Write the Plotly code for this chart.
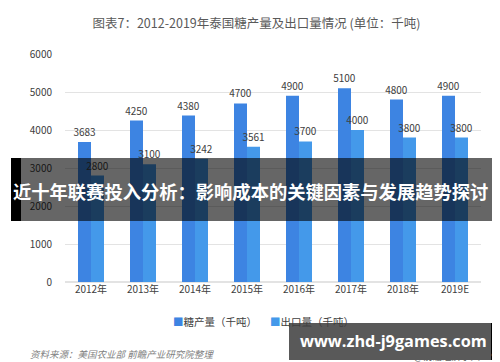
import plotly.graph_objects as go

years = ["2012年", "2013年", "2014年", "2015年", "2016年", "2017年", "2018年", "2019E"]
production = [3683, 4250, 4380, 4700, 4900, 5100, 4800, 4900]
exports = [2800, 3100, 3242, 3561, 3700, 4000, 3800, 3800]

W, H = 500, 362
L, R, T, B = 57, 473, 46, 274

def px(x):
    return (x - L) / (R - L)

def py(y):
    return (B - y) / (B - T)

CJK = "Noto Sans CJK SC, Microsoft YaHei, sans-serif"
C1, C2 = "#3D84E2", "#4499EA"

fig = go.Figure()
fig.add_trace(go.Bar(
    x=years, y=production, name="糖产量（千吨）",
    marker=dict(color=C1, line=dict(width=0)),
    text=[str(v) for v in production], textposition="outside", constraintext="none",
    textfont=dict(size=10, color="#404040", family=CJK), cliponaxis=False,
))
fig.add_trace(go.Bar(
    x=years, y=exports, name="出口量（千吨）",
    marker=dict(color=C2, line=dict(width=0)),
    text=[str(v) for v in exports], textposition="outside", constraintext="none",
    textfont=dict(size=10, color="#404040", family=CJK), cliponaxis=False,
))

shapes = [
    dict(type="rect", xref="paper", yref="paper", x0=px(3), x1=px(13), y0=py(213), y1=py(150),
         fillcolor="black", line=dict(width=0), layer="above"),
    dict(type="rect", xref="paper", yref="paper", x0=px(13), x1=px(485), y0=py(213), y1=py(150),
         fillcolor="rgba(0,0,0,0.6)", line=dict(width=0), layer="above"),
    dict(type="rect", xref="paper", yref="paper", x0=px(485), x1=px(500), y0=py(213), y1=py(150),
         fillcolor="black", line=dict(width=0), layer="above"),
    dict(type="rect", xref="paper", yref="paper", x0=px(281), x1=px(483), y0=py(352), y1=py(315),
         fillcolor="rgba(60,60,60,0.85)", line=dict(width=0), layer="above"),
    dict(type="rect", xref="paper", yref="paper", x0=px(483), x1=px(491), y0=py(352), y1=py(315),
         fillcolor="black", line=dict(width=0), layer="above"),
]

annotations = [
    dict(text=f'<span style="color:{C1}">■</span>糖产量（千吨）', xref="paper", yref="paper",
         x=px(163), y=py(313), xanchor="left", yanchor="middle", showarrow=False,
         font=dict(size=10.5, color="#404040", family=CJK)),
    dict(text=f'<span style="color:{C2}">■</span>出口量（千吨）', xref="paper", yref="paper",
         x=px(260), y=py(313), xanchor="left", yanchor="middle", showarrow=False,
         font=dict(size=10.5, color="#404040", family=CJK)),
    dict(text="<i>资料来源：美国农业部 前瞻产业研究院整理</i>", xref="paper", yref="paper",
         x=px(20), y=py(346), xanchor="left", yanchor="middle", showarrow=False,
         font=dict(size=9.5, color="#7F7F7F", family=CJK)),
    dict(text="@前瞻经济学人APP", xref="paper", yref="paper",
         x=px(492), y=py(348), xanchor="right", yanchor="middle", showarrow=False,
         font=dict(size=9.5, color="#595959", family=CJK)),
]

fig.update_layout(
    width=W, height=H,
    margin=dict(l=L, r=W - R, t=T, b=H - B, pad=0),
    paper_bgcolor="white", plot_bgcolor="white",
    barmode="group", bargap=0.5, bargroupgap=0,
    showlegend=False,
    title=dict(text="图表7：2012-2019年泰国糖产量及出口量情况 (单位：千吨)",
               x=0.497, xanchor="center", y=1 - 16 / H, yanchor="middle",
               font=dict(size=12.5, color="#595959", family=CJK)),
    font=dict(family=CJK, color="#404040"),
    xaxis=dict(showline=False, ticks="", tickfont=dict(size=10, color="#404040"),
               showgrid=False),
    yaxis=dict(range=[0, 6000], dtick=1000, showgrid=True, gridcolor="#E3E3E3", gridwidth=1,
               zeroline=True, zerolinecolor="#E3E3E3", showline=False, ticks="",
               tickfont=dict(size=10, color="#404040"), ticklabelstandoff=12),
    shapes=shapes,
    annotations=annotations,
)

fig.add_annotation(text="<b>近十年联赛投入分析：影响成本的关键因素与发展趋势探讨</b>",
                   xref="paper", yref="paper", x=px(3), y=py(183),
                   xanchor="left", yanchor="middle", showarrow=False,
                   font=dict(size=18.3, color="white", family=CJK))
fig.add_annotation(text="<b>www.zhd-j9games.com</b>",
                   xref="paper", yref="paper", x=px(385), y=py(333),
                   xanchor="center", yanchor="middle", showarrow=False,
                   font=dict(size=16.3, color="white", family="Open Sans, sans-serif"))

fig.write_html("out.html")
